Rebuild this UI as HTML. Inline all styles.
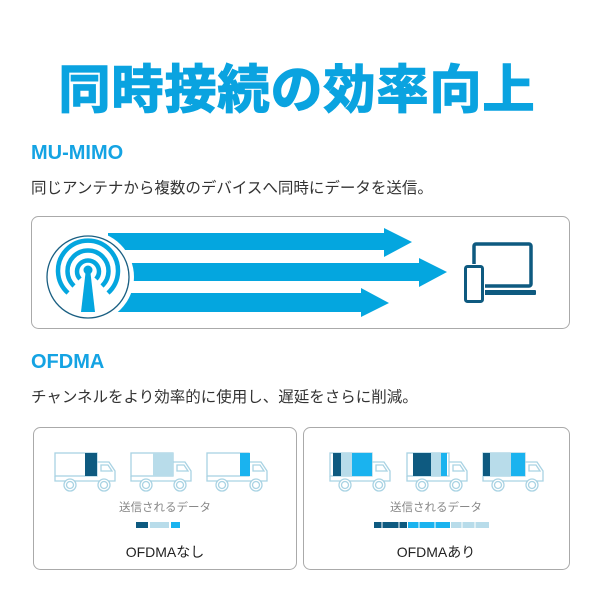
<!DOCTYPE html>
<html><head><meta charset="utf-8"><style>
html,body{margin:0;padding:0;background:#fff}
svg{display:block}
text{font-family:"Liberation Sans","Noto Sans CJK JP",sans-serif}
</style></head><body>
<svg width="600" height="600" viewBox="0 0 600 600" xmlns="http://www.w3.org/2000/svg">
<defs>
<g id="truck" fill="none" stroke="#a9d3e3" stroke-width="1.3">
<rect x="0" y="0" width="42" height="23" fill="#fff"/>
<path d="M42 9 H54 L60 18 V28 H0 V23"/>
<path d="M46 12 H53 L57 18 H46 Z"/>
<circle cx="15" cy="32" r="6" fill="#fff"/><circle cx="15" cy="32" r="3.5"/>
<circle cx="49" cy="32" r="6" fill="#fff"/><circle cx="49" cy="32" r="3.5"/>
</g>
</defs>
<text x="297" y="108" text-anchor="middle" font-size="52" font-weight="bold" fill="#0aa3e0" stroke="#0aa3e0" stroke-width="1.5" letter-spacing="1">同時接続の効率向上</text>
<text x="31" y="159" font-size="20" font-weight="bold" fill="#14a3e3">MU-MIMO</text>
<text x="31" y="193" font-size="15.5" fill="#333">同じアンテナから複数のデバイスへ同時にデータを送信。</text>
<rect x="31.5" y="216.5" width="538" height="112" rx="7" fill="#fff" stroke="#aaa"/>
<g fill="#04a6df">
<path d="M108 233 H384 V228 L412 242 L384 257 V250 H108Z"/>
<path d="M128 263 H419 V258 L447 272 L419 287 V281 H128Z"/>
<path d="M108 293 H361 V288 L389 303 L361 317 V312 H108Z"/>
</g>
<circle cx="88" cy="277" r="46" fill="#fff"/>
<circle cx="88" cy="277" r="41" fill="#fff" stroke="#1a5f82" stroke-width="1.3"/>
<g fill="none" stroke="#04a6df" stroke-width="4.5">
<path d="M68 293 A30 30 0 1 1 108 293"/>
<path d="M74 286 A20.5 20.5 0 1 1 102 286"/>
<path d="M80 279 A11 11 0 1 1 96 279"/>
</g>
<circle cx="88" cy="270" r="4.5" fill="#04a6df"/>
<path d="M85.5 273 H90.5 L95 312 H81Z" fill="#04a6df"/>
<g fill="none" stroke="#0e5a80" stroke-width="3.5">
<rect x="474" y="244" width="57" height="42" rx="2"/>
</g>
<rect x="484" y="290" width="52" height="5" rx="1" fill="#0e5a80"/>
<rect x="463" y="264" width="22" height="40" fill="#fff"/>
<rect x="465.5" y="266.5" width="17" height="35" rx="2" fill="#fff" stroke="#0e5a80" stroke-width="3"/>
<text x="31" y="368" font-size="20" font-weight="bold" fill="#14a3e3">OFDMA</text>
<text x="31" y="402" font-size="15.5" fill="#333">チャンネルをより効率的に使用し、遅延をさらに削減。</text>
<rect x="33.5" y="427.5" width="263" height="142" rx="7" fill="#fff" stroke="#aaa"/>
<rect x="303.5" y="427.5" width="266" height="142" rx="7" fill="#fff" stroke="#aaa"/>
<use href="#truck" x="55" y="453"/><use href="#truck" x="131" y="453"/><use href="#truck" x="207" y="453"/>
<rect x="85" y="453" width="12" height="23" fill="#0e5a80"/>
<rect x="153" y="453" width="20" height="23" fill="#b8dcea"/>
<rect x="240" y="453" width="10" height="23" fill="#1ab3ef"/>
<use href="#truck" x="330" y="453"/><use href="#truck" x="407" y="453"/><use href="#truck" x="483" y="453"/>
<rect x="333" y="453" width="8" height="23" fill="#0e5a80"/><rect x="341" y="453" width="11" height="23" fill="#b8dcea"/><rect x="352" y="453" width="20" height="23" fill="#1ab3ef"/>
<rect x="413" y="453" width="18" height="23" fill="#0e5a80"/><rect x="431" y="453" width="10" height="23" fill="#b8dcea"/><rect x="441" y="453" width="6" height="23" fill="#1ab3ef"/>
<rect x="483" y="453" width="7" height="23" fill="#0e5a80"/><rect x="490" y="453" width="21" height="23" fill="#b8dcea"/><rect x="511" y="453" width="14" height="23" fill="#1ab3ef"/>
<text x="165" y="511" text-anchor="middle" font-size="11.5" fill="#888">送信されるデータ</text>
<text x="436" y="511" text-anchor="middle" font-size="11.5" fill="#888">送信されるデータ</text>
<rect x="136" y="522" width="12" height="6" fill="#0e5a80"/><rect x="150" y="522" width="19" height="6" fill="#b8dcea"/><rect x="171" y="522" width="9" height="6" fill="#1ab3ef"/>
<rect x="374" y="522" width="33" height="6" fill="#0e5a80"/><rect x="408" y="522" width="42" height="6" fill="#1ab3ef"/><rect x="451" y="522" width="38" height="6" fill="#b8dcea"/>
<g stroke="#fff" stroke-width="1"><path d="M382 521V529M399 521V529M419 521V529M435 521V529M462 521V529M475 521V529"/></g>
<text x="165" y="557" text-anchor="middle" font-size="14" fill="#222">OFDMAなし</text>
<text x="436" y="557" text-anchor="middle" font-size="14" fill="#222">OFDMAあり</text>
</svg>
</body></html>
